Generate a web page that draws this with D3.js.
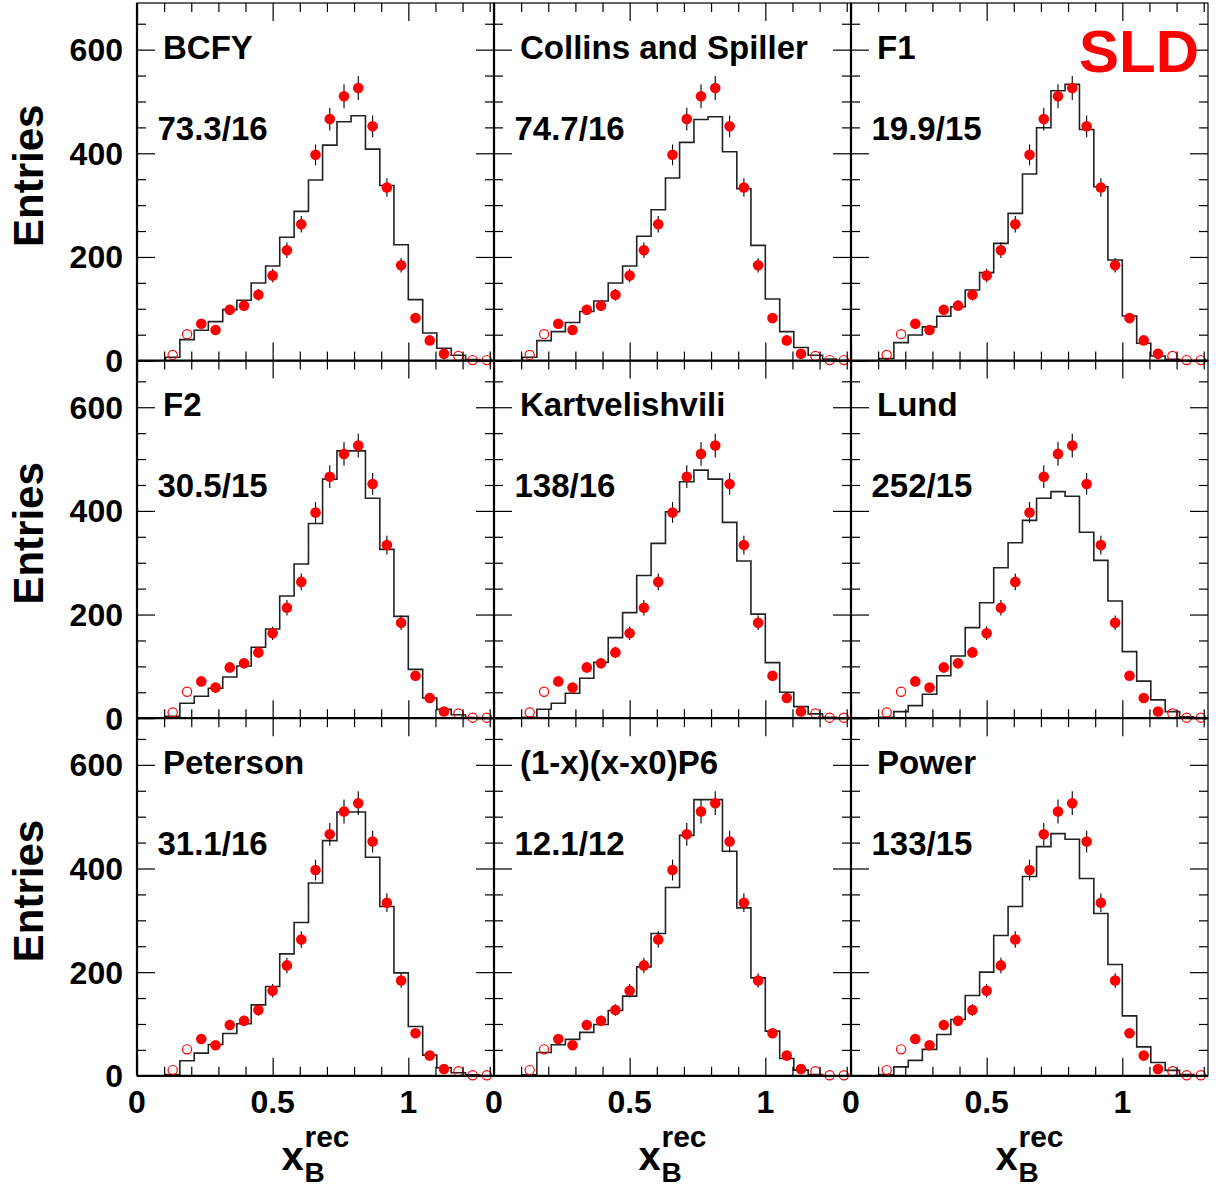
<!DOCTYPE html>
<html>
<head>
<meta charset="utf-8">
<script src="https://cdn.jsdelivr.net/npm/d3@7"></script>
<style>
  body { margin: 0; background: #fff; }
  text { font-family: "Liberation Sans", Arial, Helvetica, sans-serif; font-weight: bold; }
</style>
</head>
<body>
<svg id="chart" width="1216" height="1190"></svg>
<script>
// bin edges of x_B^rec (same for data and MC)
const binEdges = [0.105, 0.158, 0.211, 0.263, 0.316, 0.368, 0.421, 0.474, 0.526,
  0.579, 0.632, 0.684, 0.737, 0.789, 0.842, 0.895, 0.947, 1.0, 1.053, 1.105,
  1.158, 1.211, 1.263, 1.316];

// SLD data
const dataCounts = [11, 51, 71, 59, 98, 106, 127, 164, 213, 263, 397, 466, 510,
  526, 452, 334, 184, 82, 39, 13, 9, 1, 1];
const dataErrors = [3, 7, 8, 8, 10, 10, 11, 13, 15, 16, 20, 22, 23, 23, 21, 18,
  14, 9, 6, 4, 3, 1, 1];
// open markers = bins excluded from the fit
const dataOpen = [true, true, false, false, false, false, false, false, false,
  false, false, false, false, false, false, false, false, false, false, false,
  true, true, true];

// model names and chi2/ndf
const modelNames = ["BCFY", "Collins and Spiller", "F1", "F2", "Kartvelishvili",
  "Lund", "Peterson", "(1-x)(x-x0)P6", "Power"];
const chi2Labels = ["73.3/16", "74.7/16", "19.9/15", "30.5/15", "138/16",
  "252/15", "31.1/16", "12.1/12", "133/15"];

// MC histograms, one per model
const bcfy = [6.5, 40.5, 58.6, 75.2, 98.4, 116.4, 149.8, 182.6, 237.9, 288,
  348.4, 415.8, 460.8, 472.4, 408, 338, 223.6, 117.6, 53.4, 23.9, 10.4, 2, 0];
const collins = [6.5, 38.6, 56, 73.4, 94.6, 115, 149.8, 182.6, 239.8, 291.2,
  352.3, 421, 465.3, 470.4, 402.9, 331.5, 222.3, 118.8, 56, 25.2, 10.4, 3, 0];
const f1 = [4, 34.7, 49.5, 65, 85.5, 104, 136.3, 169.7, 226.2, 284, 360, 449.3,
  520.7, 533, 446, 335.4, 194, 86.2, 33.5, 9, 2.6, 0, 0];
const f2 = [3.8, 28.9, 42.4, 57.8, 79.6, 100.8, 136.9, 172.2, 235.8, 297.5,
  375.8, 461.3, 515.9, 515.9, 424.5, 325.8, 196.5, 94.3, 38.9, 17, 6.7, 1.2, 0];
const kartvelishvili = [1.5, 17.3, 28.9, 48.2, 77.1, 108, 155.5, 203.7, 275.3,
  337.4, 398.3, 456.1, 478.7, 461.3, 377.8, 303.2, 200.8, 107.3, 50.1, 22.4,
  8.3, 1.9, 0];
const lund = [1.9, 12.7, 24.3, 46.3, 82, 120.1, 174.7, 222.9, 290.3, 338.6,
  381.8, 424.5, 437.2, 428.3, 358.9, 304.5, 226.2, 128.4, 71.6, 35.3, 12.7, 2.5, 0];
const peterson = [2.6, 29, 43.8, 60.5, 81.7, 100.3, 136.9, 172.4, 235.2, 295.7,
  372.1, 453.8, 509, 509, 421.6, 326.6, 198.6, 95.2, 39.9, 15.4, 5.8, 2, 0];
const p6 = [2, 45.1, 59.8, 70.2, 83.7, 99.1, 126.1, 153.7, 210.1, 274.6, 363.2,
  464, 532.8, 532.8, 433.2, 324, 188.9, 86.2, 33.5, 11, 2.6, 0, 0];
const power = [2.6, 17.3, 29.7, 50.9, 79.8, 108.7, 155, 200, 270.7, 326.6,
  384.5, 442.2, 467.3, 456.3, 380.6, 313.1, 214.8, 115.7, 55.9, 25.8, 10.4, 2.6, 0];
const modelCurves = [bcfy, collins, f1, f2, kartvelishvili, lund, peterson, p6, power];

// ticks
const xMajor = [0, 0.5, 1];
const xMinor = [0.1, 0.2, 0.3, 0.4, 0.6, 0.7, 0.8, 0.9, 1.1, 1.2, 1.3];
const xTickLabels = ["0", "0.5", "1"];
const yMajor = [0, 200, 400, 600];
const yMinor = [50, 100, 150, 250, 300, 350, 450, 500, 550, 650];
const yTickLabels = ["0", "200", "400", "600"];

// layout
const svg = d3.select("#chart");
const marginLeft = 137, marginTop = 3;
const panelW = 357, panelH = 357.6;

const x = d3.scaleLinear().domain([0, 1.3158]).range([0, panelW]);
const y = d3.scaleLinear().domain([0, 690]).range([panelH, 0]);

const centers = binEdges.slice(0, -1).map((e, i) => (e + binEdges[i + 1]) / 2);
const points = dataCounts.map((v, i) => ({
  x: centers[i], v: v, err: dataErrors[i], open: dataOpen[i],
}));

// axes helper (ROOT style: ticks inside the frame on all four sides)
function drawTicks(g, axisFn, scale, values, size, transform) {
  g.append("g")
    .attr("transform", transform)
    .call(axisFn(scale).tickValues(values).tickSize(size).tickFormat("").tickSizeOuter(0))
    .call((a) => a.select(".domain").remove())
    .call((a) => a.selectAll("line").attr("stroke", "#000").attr("stroke-width", 1.2));
}

modelNames.forEach((name, idx) => {
  const col = idx % 3, row = Math.floor(idx / 3);
  const g = svg.append("g")
    .attr("transform", `translate(${marginLeft + col * panelW},${marginTop + row * panelH})`);

  // frame
  g.append("rect")
    .attr("width", panelW).attr("height", panelH)
    .attr("fill", "none").attr("stroke", "#000").attr("stroke-width", 1.2);

  // MC histogram as steps
  const vals = modelCurves[idx];
  const steps = [[binEdges[0], 0]];
  vals.forEach((v, i) => {
    steps.push([binEdges[i], v]);
    steps.push([binEdges[i + 1], v]);
  });
  steps.push([binEdges[binEdges.length - 1], 0]);
  g.append("path")
    .datum(steps)
    .attr("d", d3.line().x((d) => x(d[0])).y((d) => y(d[1])))
    .attr("fill", "none")
    .attr("stroke", "#222")
    .attr("stroke-width", 1.6);

  // error bars
  g.append("g").selectAll("line")
    .data(points.filter((d) => !d.open))
    .join("line")
    .attr("x1", (d) => x(d.x)).attr("x2", (d) => x(d.x))
    .attr("y1", (d) => y(d.v - d.err)).attr("y2", (d) => y(d.v + d.err))
    .attr("stroke", "#000").attr("stroke-width", 1.1);

  // data markers
  g.append("g").selectAll("circle")
    .data(points)
    .join("circle")
    .attr("cx", (d) => x(d.x))
    .attr("cy", (d) => y(d.v))
    .attr("r", (d) => (d.open ? 4.6 : 5.3))
    .attr("fill", (d) => (d.open ? "none" : "#ff0000"))
    .attr("stroke", "#ff0000")
    .attr("stroke-width", (d) => (d.open ? 1.2 : 0));

  // ticks
  drawTicks(g, d3.axisBottom, x, xMajor, -18, `translate(0,${panelH})`);
  drawTicks(g, d3.axisBottom, x, xMinor, -9, `translate(0,${panelH})`);
  drawTicks(g, d3.axisTop, x, xMajor, -18, "translate(0,0)");
  drawTicks(g, d3.axisTop, x, xMinor, -9, "translate(0,0)");
  drawTicks(g, d3.axisLeft, y, yMajor, -18, "translate(0,0)");
  drawTicks(g, d3.axisLeft, y, yMinor, -9, "translate(0,0)");
  drawTicks(g, d3.axisRight, y, yMajor, -18, `translate(${panelW},0)`);
  drawTicks(g, d3.axisRight, y, yMinor, -9, `translate(${panelW},0)`);

  // thicker axis lines
  g.append("line")
    .attr("x1", 0).attr("x2", panelW).attr("y1", panelH).attr("y2", panelH)
    .attr("stroke", "#000").attr("stroke-width", 2.2);
  g.append("line")
    .attr("x1", 0).attr("x2", 0).attr("y1", 0).attr("y2", panelH)
    .attr("stroke", "#000").attr("stroke-width", 2.2);

  // model name and chi2/ndf
  g.append("text")
    .attr("x", 26).attr("y", 55.5)
    .style("font-size", "33px")
    .text(name);
  g.append("text")
    .attr("x", 20.5).attr("y", 136.5)
    .style("font-size", "33px")
    .text(chi2Labels[idx]);

  // y tick labels and title on the left column
  if (col === 0) {
    g.append("g").selectAll("text")
      .data(yMajor)
      .join("text")
      .attr("x", -14)
      .attr("y", (d) => y(d))
      .attr("dy", "0.36em")
      .attr("text-anchor", "end")
      .style("font-size", "32px")
      .text((d, i) => yTickLabels[i]);
    g.append("text")
      .attr("transform", `translate(${43 - marginLeft},${panelH / 2 - 6}) rotate(-90)`)
      .attr("text-anchor", "middle")
      .style("font-size", "42px")
      .text("Entries");
  }

  // x tick labels and title on the bottom row
  if (row === 2) {
    g.append("g").selectAll("text")
      .data(xMajor)
      .join("text")
      .attr("x", (d) => x(d))
      .attr("y", panelH + 37)
      .attr("text-anchor", "middle")
      .style("font-size", "32px")
      .text((d, i) => xTickLabels[i]);
    const cx = panelW / 2;
    g.append("text")
      .attr("x", cx - 34).attr("y", panelH + 94)
      .style("font-size", "40px")
      .text("x");
    g.append("text")
      .attr("x", cx - 11).attr("y", panelH + 106)
      .style("font-size", "28px")
      .text("B");
    g.append("text")
      .attr("x", cx - 11).attr("y", panelH + 71)
      .style("font-size", "30px")
      .text("rec");
  }
});

// experiment label
svg.append("text")
  .attr("x", 1199).attr("y", 72)
  .attr("text-anchor", "end")
  .style("font-size", "60px")
  .style("fill", "#ff0000")
  .text("SLD");
</script>
</body>
</html>
